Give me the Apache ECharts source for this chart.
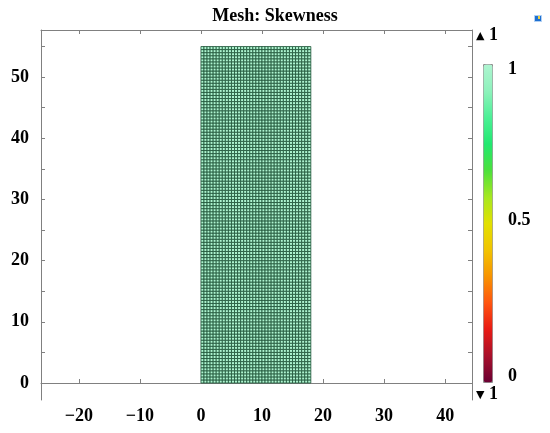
<!DOCTYPE html>
<html>
<head>
<meta charset="utf-8">
<script src="https://cdn.jsdelivr.net/npm/echarts@6/dist/echarts.min.js"></script>
<style>
  html, body { margin: 0; padding: 0; background: #fff; }
  #main { width: 550px; height: 433px; }
</style>
</head>
<body>
<div id="main"></div>
<script>
  // mesh domain (rectangle) and element counts
  const meshX = [0, 18]
  const meshY = [0, 55]
  const cellsX = 36
  const cellsY = 110
  // element quality, every element is 1 here
  const skewness = 1

  // tick labels
  const xTicks = [-20, -10, 0, 10, 20, 30, 40]
  const yTicks = [0, 5, 10, 15, 20, 25, 30, 35, 40, 45, 50, 55]
  const yLabels = [0, 10, 20, 30, 40, 50]
  const barLabels = ['1', '0.5', '0']

  // colour table of the legend, from 0 up to 1
  const colorTable = ['#6a0032', '#a8102c', '#e81a14', '#ff5410', '#f89400', '#f2c400',
    '#e2e000', '#a6e820', '#4ce03c', '#22e870', '#4cf096', '#8ef2bc', '#aef4d0']

  // build the elements of the mesh
  const cells = []
  const dx = (meshX[1] - meshX[0]) / cellsX
  const dy = (meshY[1] - meshY[0]) / cellsY
  for (let i = 0; i < cellsX; i++) {
    for (let j = 0; j < cellsY; j++) {
      cells.push([meshX[0] + i * dx, meshY[0] + j * dy, meshX[0] + (i + 1) * dx, meshY[0] + (j + 1) * dy, skewness])
    }
  }

  const font = 'Liberation Serif'
  const axisColor = '#808080'

  const myChart = echarts.init(document.querySelector('#main'))

  const option = {
    animation: false,
    title: {
      text: 'Mesh: Skewness',
      left: 'center',
      top: 2,
      textStyle: { fontFamily: font, fontWeight: 'bold', fontSize: 18, color: '#000' }
    },
    grid: { left: 41, right: 78, top: 30, bottom: 33 },
    xAxis: [
      {
        type: 'value', min: -26.2, max: 44.4,
        axisLine: { lineStyle: { color: axisColor } },
        axisTick: { inside: true, length: 4, customValues: xTicks, lineStyle: { color: axisColor } },
        axisLabel: {
          customValues: xTicks, margin: 7,
          fontFamily: font, fontWeight: 'bold', fontSize: 18, color: '#000',
          formatter: v => String(v).replace('-', '\u2212')
        },
        splitLine: { show: false }
      },
      {
        type: 'value', min: -26.2, max: 44.4, position: 'top',
        axisLine: { show: true, onZero: false, lineStyle: { color: axisColor } },
        axisTick: { inside: true, length: 4, customValues: xTicks, lineStyle: { color: axisColor } },
        axisLabel: { show: false },
        splitLine: { show: false }
      }
    ],
    yAxis: [
      {
        type: 'value', min: -2.78, max: 57.7,
        axisLine: { show: true, onZero: false, lineStyle: { color: axisColor } },
        axisTick: { inside: true, length: 4, customValues: yTicks, lineStyle: { color: axisColor } },
        axisLabel: {
          customValues: yLabels, margin: 12,
          fontFamily: font, fontWeight: 'bold', fontSize: 18, color: '#000'
        },
        splitLine: { show: false }
      },
      {
        type: 'value', min: -2.78, max: 57.7, position: 'right',
        axisLine: { show: true, onZero: false, lineStyle: { color: axisColor } },
        axisTick: { inside: true, length: 4, customValues: yTicks, lineStyle: { color: axisColor } },
        axisLabel: { show: false },
        splitLine: { show: false }
      }
    ],
    visualMap: {
      type: 'continuous',
      min: 0, max: 1,
      seriesIndex: 0,
      dimension: 4,
      left: 483, top: 64,
      itemWidth: 9, itemHeight: 318,
      padding: 0,
      borderColor: '#909090', borderWidth: 1,
      calculable: false, hoverLink: false,
      showLabel: false,
      text: null,
      inRange: { color: colorTable }
    },
    graphic: [
      { type: 'text', left: 508, top: 60, style: { text: barLabels[0], font: 'bold 18px "Liberation Serif"', fill: '#000' } },
      { type: 'text', left: 508, top: 211, style: { text: barLabels[1], font: 'bold 18px "Liberation Serif"', fill: '#000' } },
      { type: 'text', left: 508, top: 367, style: { text: barLabels[2], font: 'bold 18px "Liberation Serif"', fill: '#000' } },
      { type: 'text', left: 476, top: 31, style: { text: '\u25B2', font: 'bold 11px "DejaVu Sans"', fill: '#000' } },
      { type: 'text', left: 489, top: 26, style: { text: '1', font: 'bold 18px "Liberation Serif"', fill: '#000' } },
      { type: 'text', left: 476, top: 390, style: { text: '\u25BC', font: 'bold 11px "DejaVu Sans"', fill: '#000' } },
      { type: 'text', left: 489, top: 385, style: { text: '1', font: 'bold 18px "Liberation Serif"', fill: '#000' } },
      // small toolbar icon in the corner
      { type: 'rect', left: 534, top: 15, shape: { width: 7, height: 6 }, style: { fill: '#1e6fd0', stroke: '#b0d0f4', lineWidth: 1 } },
      { type: 'rect', left: 538, top: 16, shape: { width: 2, height: 3 }, style: { fill: '#f0d040' } }
    ],
    series: [
      {
        type: 'custom',
        xAxisIndex: 0,
        yAxisIndex: 0,
        data: cells,
        encode: { x: [0, 2], y: [1, 3] },
        renderItem: function (params, api) {
          const p0 = api.coord([api.value(0), api.value(1)])
          const p1 = api.coord([api.value(2), api.value(3)])
          return {
            type: 'rect',
            shape: { x: p0[0], y: p1[1], width: p1[0] - p0[0], height: p0[1] - p1[1] },
            style: { fill: api.visual('color'), stroke: '#1d5236', lineWidth: 0.8 }
          }
        }
      }
    ]
  }

  myChart.setOption(option)
</script>
</body>
</html>
